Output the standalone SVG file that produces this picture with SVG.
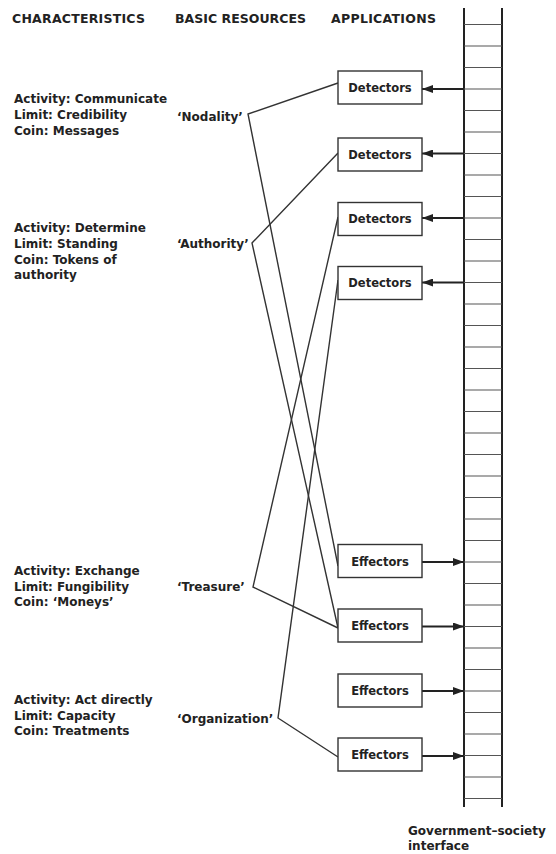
<svg xmlns="http://www.w3.org/2000/svg" width="556" height="854" viewBox="0 0 556 854">
<style>
text{font-family:"DejaVu Sans",Verdana,sans-serif;font-weight:bold;fill:#222}
.hd{font-size:12.5px}
.t{font-size:12px}
.bx{font-size:11.5px;text-anchor:middle}
.box{fill:#fff;stroke:#333;stroke-width:1.4}
.ln{stroke:#333;stroke-width:1.4;fill:none}
.ar{stroke:#222;stroke-width:2;fill:none}
.rail{stroke:#222;stroke-width:2}
.rung{stroke:#555;stroke-width:1.2}
</style>
<defs>
<marker id="ah" markerWidth="11" markerHeight="8" refX="11" refY="4" orient="auto" markerUnits="userSpaceOnUse">
<path d="M0,0 L11,4 L0,8 z" fill="#222"/>
</marker>
</defs>
<rect width="556" height="854" fill="#fff"/>
<g id="headers">
<text class="hd" x="12" y="23" textLength="133">CHARACTERISTICS</text>
<text class="hd" x="175" y="23" textLength="131">BASIC RESOURCES</text>
<text class="hd" x="331" y="23" textLength="105">APPLICATIONS</text>
</g>
<g id="characteristics">
<g id="char-nodality">
<text class="t" x="14" y="103">Activity: Communicate</text>
<text class="t" x="14" y="119">Limit: Credibility</text>
<text class="t" x="14" y="135">Coin: Messages</text>
</g>
<g id="char-authority">
<text class="t" x="14" y="232">Activity: Determine</text>
<text class="t" x="14" y="248">Limit: Standing</text>
<text class="t" x="14" y="263.5">Coin: Tokens of</text>
<text class="t" x="14" y="279">authority</text>
</g>
<g id="char-treasure">
<text class="t" x="14" y="575">Activity: Exchange</text>
<text class="t" x="14" y="590.5">Limit: Fungibility</text>
<text class="t" x="14" y="606">Coin: ‘Moneys’</text>
</g>
<g id="char-organization">
<text class="t" x="14" y="704">Activity: Act directly</text>
<text class="t" x="14" y="719.5">Limit: Capacity</text>
<text class="t" x="14" y="735">Coin: Treatments</text>
</g>
</g>
<g id="resources">
<g id="res-nodality"><text class="t" x="177" y="120.5">‘Nodality’</text></g>
<g id="res-authority"><text class="t" x="177" y="248">‘Authority’</text></g>
<g id="res-treasure"><text class="t" x="177" y="591">‘Treasure’</text></g>
<g id="res-organization"><text class="t" x="177" y="723">‘Organization’</text></g>
</g>
<g id="connectors">
<polyline class="ln" points="338,83 248,114 338,566"/>
<polyline class="ln" points="338,153 252,243 338,628"/>
<polyline class="ln" points="338,217 253,587 338,628"/>
<polyline class="ln" points="338,280 278,718 338,757"/>
<line class="ar" x1="464" y1="89" x2="422" y2="89" marker-end="url(#ah)"/>
<line class="ar" x1="464" y1="153.5" x2="422" y2="153.5" marker-end="url(#ah)"/>
<line class="ar" x1="464" y1="218" x2="422" y2="218" marker-end="url(#ah)"/>
<line class="ar" x1="464" y1="282.5" x2="422" y2="282.5" marker-end="url(#ah)"/>
<line class="ar" x1="422" y1="562" x2="464" y2="562" marker-end="url(#ah)"/>
<line class="ar" x1="422" y1="626.5" x2="464" y2="626.5" marker-end="url(#ah)"/>
<line class="ar" x1="422" y1="691" x2="464" y2="691" marker-end="url(#ah)"/>
<line class="ar" x1="422" y1="756" x2="464" y2="756" marker-end="url(#ah)"/>
</g>
<g id="det1"><rect class="box" x="338" y="71" width="84" height="33"/><text class="bx" x="380" y="92">Detectors</text></g>
<g id="det2"><rect class="box" x="338" y="138" width="84" height="33"/><text class="bx" x="380" y="158.5">Detectors</text></g>
<g id="det3"><rect class="box" x="338" y="202.5" width="84" height="33"/><text class="bx" x="380" y="223">Detectors</text></g>
<g id="det4"><rect class="box" x="338" y="266.5" width="84" height="33"/><text class="bx" x="380" y="287">Detectors</text></g>
<g id="eff1"><rect class="box" x="338" y="544.5" width="84" height="33"/><text class="bx" x="380" y="565.5">Effectors</text></g>
<g id="eff2"><rect class="box" x="338" y="609" width="84" height="33"/><text class="bx" x="380" y="630">Effectors</text></g>
<g id="eff3"><rect class="box" x="338" y="674" width="84" height="33"/><text class="bx" x="380" y="695">Effectors</text></g>
<g id="eff4"><rect class="box" x="338" y="738" width="84" height="33"/><text class="bx" x="380" y="759">Effectors</text></g>
<g id="interface">
<line class="rail" x1="464" y1="8" x2="464" y2="807"/>
<line class="rail" x1="502" y1="8" x2="502" y2="807"/>
<path class="rung" d="M464,24.5H502M464,46H502M464,67.5H502M464,89H502M464,110.5H502M464,132H502M464,153.5H502M464,175H502M464,196.5H502M464,218H502M464,239.5H502M464,261H502M464,282.5H502M464,304H502M464,325.5H502M464,347H502M464,368.5H502M464,390H502M464,411.5H502M464,433H502M464,454.5H502M464,476H502M464,497.5H502M464,519H502M464,540.5H502M464,562H502M464,583.5H502M464,605H502M464,626.5H502M464,648H502M464,669.5H502M464,691H502M464,712.5H502M464,734H502M464,755.5H502M464,777H502M464,798.5H502"/>
<text class="t" x="408" y="835">Government–society</text>
<text class="t" x="408" y="850">interface</text>
</g>
</svg>
